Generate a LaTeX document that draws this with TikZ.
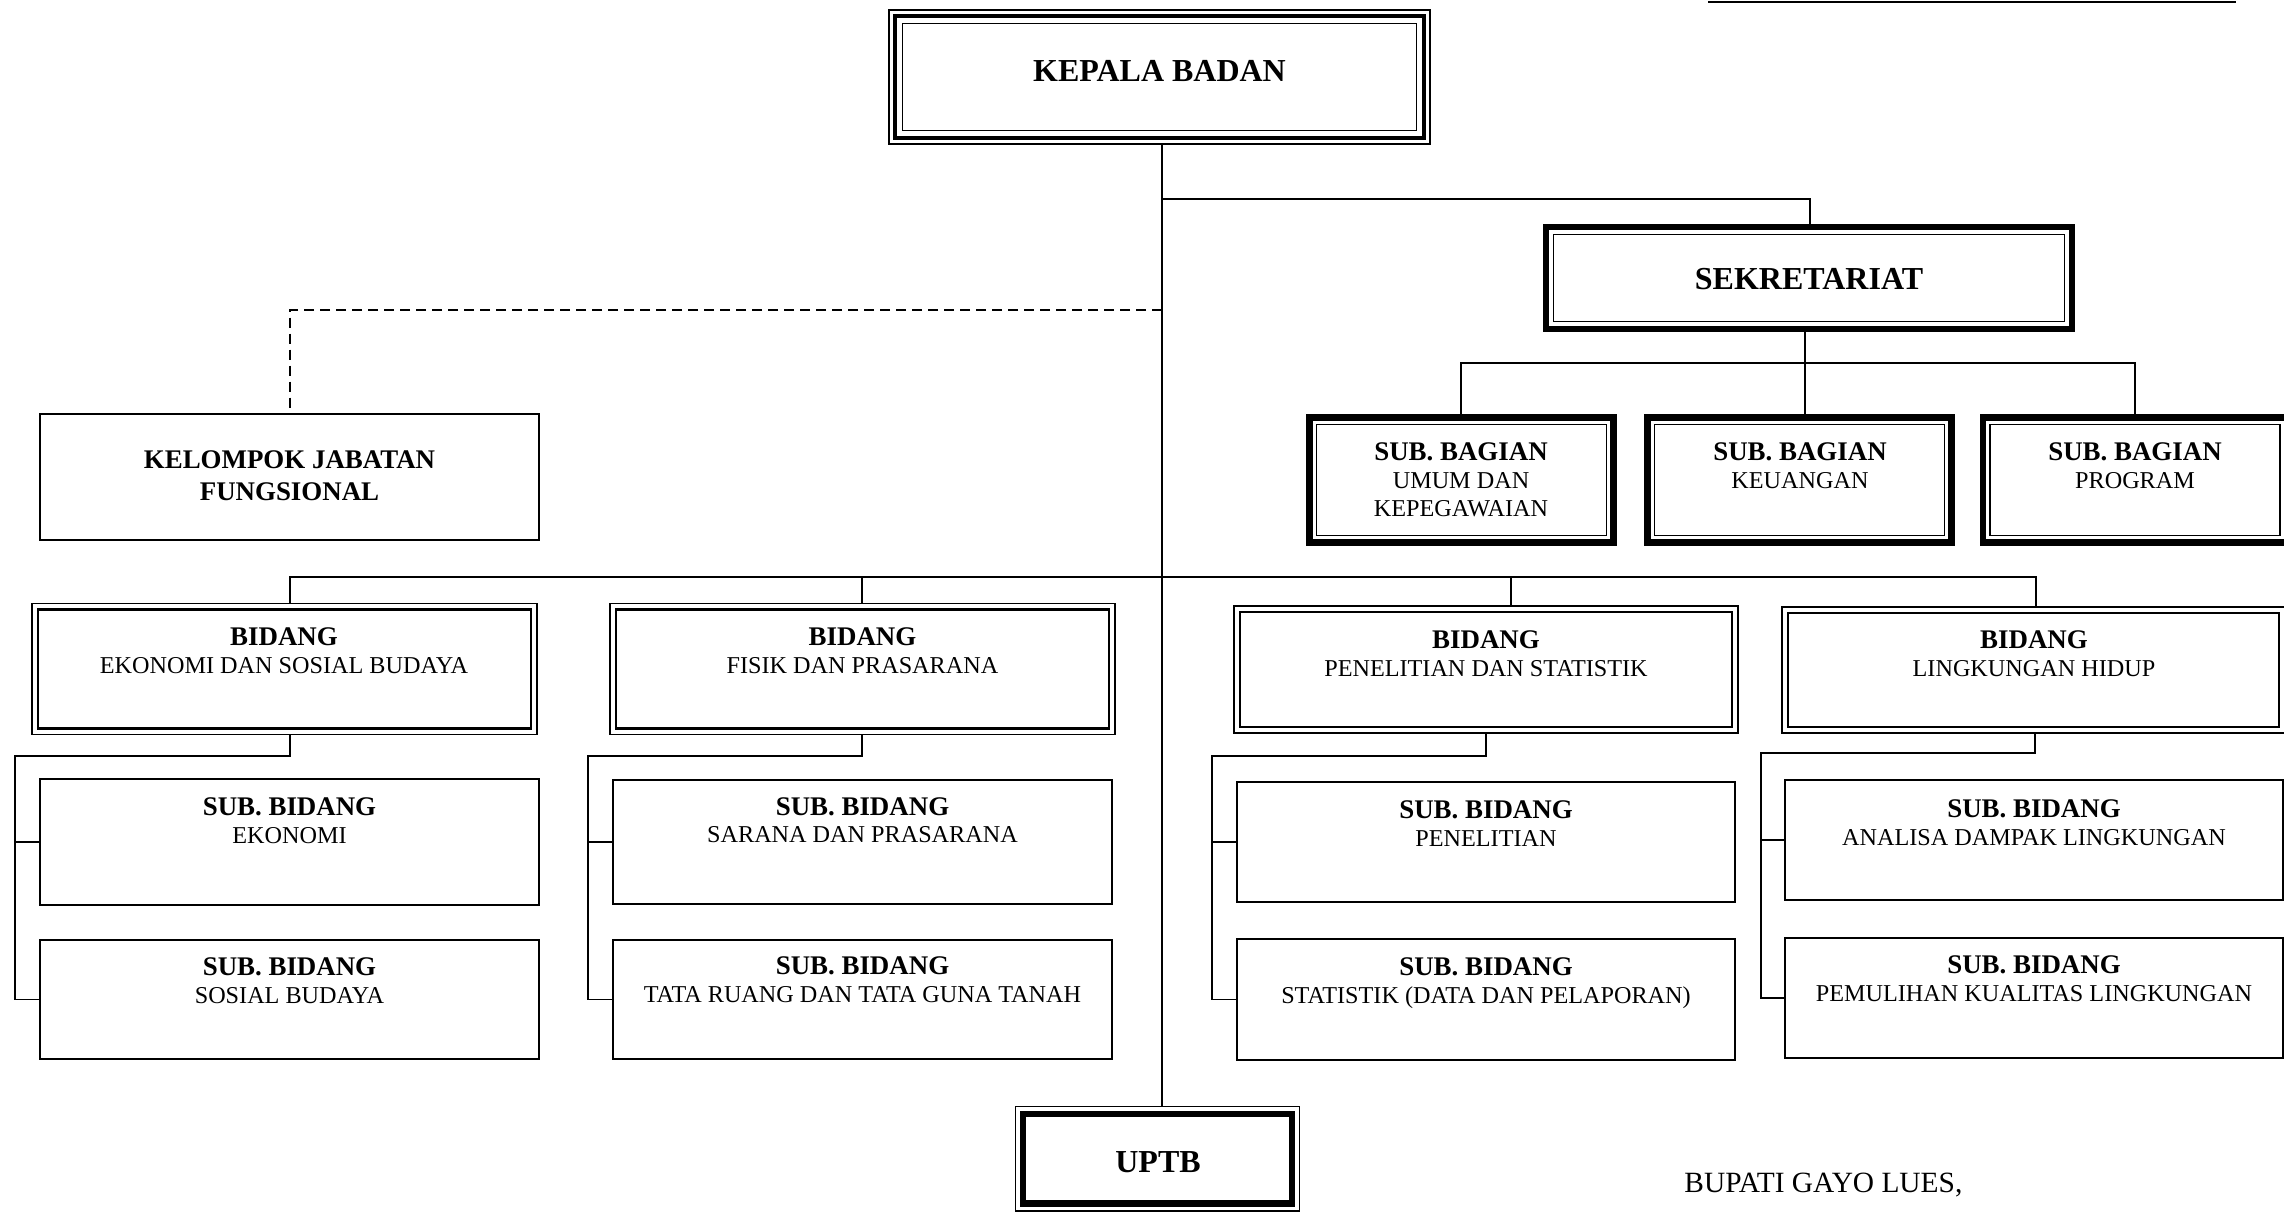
\documentclass[tikz,border=0pt]{standalone}
\usepackage{fontspec}
\setmainfont{Liberation Serif}
\newcommand\bx[6]{%
  \pgfmathsetmacro\bxw{(#5-#3)*0.5}%
  \pgfmathsetmacro\bxh{(#6-#4)*0.5}%
  \node[#2, minimum width=\bxw pt, minimum height=\bxh pt] (#1) at ({(#3+#5)/2},{(#4+#6)/2}) {};}
\newcommand\innerframe[3]{%
  \draw[line width=#3] ([xshift=#2,yshift=-#2]#1.north west) rectangle ([xshift=-#2,yshift=#2]#1.south east);}
\begin{document}
\begin{tikzpicture}[x=0.5pt,y=-0.5pt,
  conn/.style={line width=0.9pt},
  dconn/.style={line width=1pt,dash pattern=on 5pt off 3pt},
  plainbox/.style={draw,rectangle,line width=0.85pt,inner sep=0pt,outer sep=0pt},
  fineframe/.style={draw,rectangle,line width=0.7pt,inner sep=0pt,outer sep=0pt},
  heavyframe/.style={draw,rectangle,line width=3.3pt,inner sep=0pt,outer sep=0pt},
  bigtxt/.style={font=\fontsize{16}{19}\selectfont\bfseries,anchor=base,inner sep=0pt},
  boldtxt/.style={font=\fontsize{13.45}{16}\selectfont\bfseries,anchor=base,inner sep=0pt},
  regtxt/.style={font=\fontsize{12.1}{14}\selectfont,anchor=base,inner sep=0pt},
  bupatitxt/.style={font=\fontsize{14.7}{17}\selectfont,anchor=base west,inner sep=0pt}]
\useasboundingbox (0,0) rectangle (2284,1212);

% top-right line
\coordinate (tl1) at (1708,1.5);
\coordinate (tl2) at (2236,1.5);
\draw[line width=1pt] (tl1) -- (tl2);

% KEPALA BADAN
\bx{kep}{fineframe}{889}{10}{1430}{144}
\innerframe{kep}{3pt}{2pt}
\innerframe{kep}{6.75pt}{0.8pt}
\node[bigtxt] (tkep) at (1159.5,81) {KEPALA BADAN};

% SEKRETARIAT
\bx{sek}{heavyframe}{1546}{227}{2072}{329}
\innerframe{sek}{3.8pt}{0.7pt}
\node[bigtxt] (tsek) at (1809,289) {SEKRETARIAT};

% SUB BAGIAN
\bx{sba}{heavyframe}{1309.3}{417.3}{1613.3}{542.3}
\innerframe{sba}{3.5pt}{0.7pt}
\bx{sbb}{heavyframe}{1647.3}{417.3}{1951.7}{542.3}
\innerframe{sbb}{3.5pt}{0.7pt}
\bx{sbc}{heavyframe}{1983}{417.3}{2287}{542.3}
\innerframe{sbc}{3.5pt}{0.7pt}
\node[boldtxt] (tsba1) at (1461,460) {SUB. BAGIAN};
\node[regtxt] (tsba2) at (1461,488) {UMUM DAN};
\node[regtxt] (tsba3) at (1461,516) {KEPEGAWAIAN};
\node[boldtxt] (tsbb1) at (1800,460) {SUB. BAGIAN};
\node[regtxt] (tsbb2) at (1800,488) {KEUANGAN};
\node[boldtxt] (tsbc1) at (2135,460) {SUB. BAGIAN};
\node[regtxt] (tsbc2) at (2135,488) {PROGRAM};

% KELOMPOK JABATAN FUNGSIONAL
\bx{kel}{plainbox}{40}{414}{539}{540}
\node[boldtxt] (tkel1) at (289.5,468) {KELOMPOK JABATAN};
\node[boldtxt] (tkel2) at (289.5,500) {FUNGSIONAL};

% BIDANG boxes
\bx{b1}{fineframe}{32}{603.5}{537}{734.5}
\innerframe{b1}{3pt}{1.3pt}
\bx{b2}{fineframe}{610}{603.5}{1115}{734.5}
\innerframe{b2}{3pt}{1.3pt}
\bx{b3}{fineframe}{1234}{606}{1738}{733}
\innerframe{b3}{3pt}{1.3pt}
\bx{b4}{fineframe}{1782}{607}{2285}{733}
\innerframe{b4}{3pt}{1.3pt}
\node[boldtxt] (tb1a) at (284,645) {BIDANG};
\node[regtxt]  (tb1b) at (284,673) {EKONOMI DAN SOSIAL BUDAYA};
\node[boldtxt] (tb2a) at (862.5,645) {BIDANG};
\node[regtxt]  (tb2b) at (862.5,673) {FISIK DAN PRASARANA};
\node[boldtxt] (tb3a) at (1486,648) {BIDANG};
\node[regtxt]  (tb3b) at (1486,676) {PENELITIAN DAN STATISTIK};
\node[boldtxt] (tb4a) at (2034,648) {BIDANG};
\node[regtxt]  (tb4b) at (2034,676) {LINGKUNGAN HIDUP};

% SUB BIDANG boxes
\bx{s11}{plainbox}{40}{779}{539}{905}
\bx{s12}{plainbox}{40}{940}{539}{1059}
\bx{s21}{plainbox}{613}{780}{1112}{904}
\bx{s22}{plainbox}{613}{940}{1112}{1059}
\bx{s31}{plainbox}{1237}{782}{1735}{902}
\bx{s32}{plainbox}{1237}{939}{1735}{1060}
\bx{s41}{plainbox}{1785}{780}{2283}{900}
\bx{s42}{plainbox}{1785}{938}{2283}{1058}
\node[boldtxt] (ts11a) at (289.5,815) {SUB. BIDANG};
\node[regtxt]  (ts11b) at (289.5,843) {EKONOMI};
\node[boldtxt] (ts12a) at (289.5,975) {SUB. BIDANG};
\node[regtxt]  (ts12b) at (289.5,1003) {SOSIAL BUDAYA};
\node[boldtxt] (ts21a) at (862.5,815) {SUB. BIDANG};
\node[regtxt]  (ts21b) at (862.5,842) {SARANA DAN PRASARANA};
\node[boldtxt] (ts22a) at (862.5,974) {SUB. BIDANG};
\node[regtxt]  (ts22b) at (862.5,1002) {TATA RUANG DAN TATA GUNA TANAH};
\node[boldtxt] (ts31a) at (1486,818) {SUB. BIDANG};
\node[regtxt]  (ts31b) at (1486,846) {PENELITIAN};
\node[boldtxt] (ts32a) at (1486,975) {SUB. BIDANG};
\node[regtxt]  (ts32b) at (1486,1003) {STATISTIK (DATA DAN PELAPORAN)};
\node[boldtxt] (ts41a) at (2034,817) {SUB. BIDANG};
\node[regtxt]  (ts41b) at (2034,845) {ANALISA DAMPAK LINGKUNGAN};
\node[boldtxt] (ts42a) at (2034,973) {SUB. BIDANG};
\node[regtxt]  (ts42b) at (2034,1001) {PEMULIHAN KUALITAS LINGKUNGAN};

% UPTB
\bx{uptb}{fineframe}{1015.5}{1106.5}{1299.5}{1211}
\innerframe{uptb}{3.75pt}{3.3pt}
\node[bigtxt] (tuptb) at (1158,1172) {UPTB};

% BUPATI
\node[bupatitxt] (tbup) at (1684,1192) {BUPATI GAYO LUES,};

% ---------- connectors ----------
\coordinate (tr) at (1162,0);
\draw[conn] (kep.south -| tr) -- (uptb.north -| tr);

\coordinate (j1) at (1162,199);
\coordinate (sx) at (1810,0);
\draw[conn] (j1) -| (sek.north -| sx);

\coordinate (j2) at (1162,310);
\draw[dconn] (j2) -| (kel.north);

\coordinate (sbj) at (1805,363);
\draw[conn] (sek.south -| sbj) -- (sbb.north -| sbj);
\draw[conn] (sba.north) -- (sba.north |- sbj) -- (sbc.north |- sbj) -- (sbc.north);

% bar to bidang
\coordinate (bar) at (0,577);
\coordinate (t1) at (290,0);
\coordinate (t2) at (862,0);
\coordinate (t3) at (1511,0);
\coordinate (t4) at (2036,0);
\draw[conn] (b1.north -| t1) -- (bar -| t1) -- (bar -| t4) -- (b4.north -| t4);
\draw[conn] (bar -| t2) -- (b2.north -| t2);
\draw[conn] (bar -| t3) -- (b3.north -| t3);

% groups
\coordinate (c1) at (290,756);  \coordinate (k1) at (15,756);
\coordinate (c2) at (862,756); \coordinate (k2) at (588,756);
\coordinate (c3) at (1486,756); \coordinate (k3) at (1212,756);
\coordinate (c4) at (2035,753); \coordinate (k4) at (1761,753);
\draw[conn] (b1.south -| c1) -- (c1) -- (k1) |- (s12.west);
\draw[conn] (k1 |- s11.west) -- (s11.west);
\draw[conn] (b2.south -| c2) -- (c2) -- (k2) |- (s22.west);
\draw[conn] (k2 |- s21.west) -- (s21.west);
\draw[conn] (b3.south -| c3) -- (c3) -- (k3) |- (s32.west);
\draw[conn] (k3 |- s31.west) -- (s31.west);
\draw[conn] (b4.south -| c4) -- (c4) -- (k4) |- (s42.west);
\draw[conn] (k4 |- s41.west) -- (s41.west);
\end{tikzpicture}
\end{document}
